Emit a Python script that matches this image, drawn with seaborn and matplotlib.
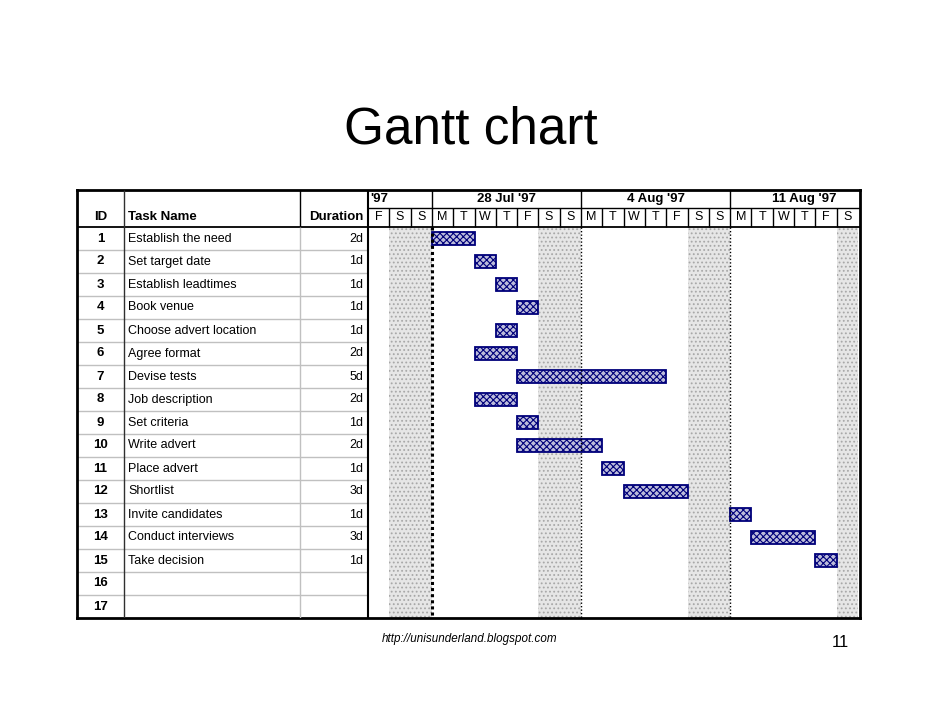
import matplotlib
matplotlib.use("Agg")
import matplotlib.pyplot as plt
from matplotlib.patches import Rectangle
import pandas as pd
import seaborn as sns

# --- data ---
ids = [str(i) for i in range(1, 18)]
task_names = ["Establish the need", "Set target date", "Establish leadtimes", "Book venue",
              "Choose advert location", "Agree format", "Devise tests", "Job description",
              "Set criteria", "Write advert", "Place advert", "Shortlist",
              "Invite candidates", "Conduct interviews", "Take decision"]
durations = ["2d", "1d", "1d", "1d", "1d", "2d", "5d", "2d", "1d", "2d", "1d", "3d",
             "1d", "3d", "1d"]
# calendar day offset from Fri 25 Jul '97 and calendar days spanned (weekends included)
start_day = [3, 5, 6, 7, 6, 5, 7, 5, 7, 7, 11, 12, 17, 18, 21]
span_days = [2, 1, 1, 1, 1, 2, 7, 2, 1, 4, 1, 3, 1, 3, 1]
week_labels = ["'97", "28 Jul '97", "4 Aug '97", "11 Aug '97"]
week_starts = [-4, 3, 10, 17]
day_letters = ["F", "S", "S", "M", "T", "W", "T", "F", "S", "S", "M", "T", "W", "T",
               "F", "S", "S", "M", "T", "W", "T", "F", "S"]

# --- layout in pixels of the 942x728 page ---
FIG_W, FIG_H = 942, 728
TBL_L, TBL_R, TBL_T, TBL_B = 77, 860, 190, 618
HDR_MID, HDR_B = 208, 227
COL_TASK, COL_DUR, CHART_X0 = 124, 300, 368
DAY_PX = 21.3
ROW_PX = (TBL_B - HDR_B) / 17


def px2x(p):
    return (p - CHART_X0) / DAY_PX


def py2y(p):
    return (p - HDR_B) / ROW_PX - 0.5


sns.set_style("white")
plt.rcParams["font.family"] = ["Liberation Sans", "DejaVu Sans"]
plt.rcParams["text.color"] = "black"
plt.rcParams["hatch.linewidth"] = 0.8

fig = plt.figure(figsize=(FIG_W / 100, FIG_H / 100), dpi=100)
ax = fig.add_axes([TBL_L / FIG_W, 1 - TBL_B / FIG_H,
                   (TBL_R - TBL_L) / FIG_W, (TBL_B - TBL_T) / FIG_H])

tasks = pd.DataFrame({"id": ids[:len(task_names)], "start": start_day, "span": span_days})

# weekend shading in the chart body
n_days = len(day_letters)
for d, letter in enumerate(day_letters):
    if letter == "S":
        ax.add_patch(Rectangle((d, -0.5), 1, 17, facecolor="#e6e6e6", edgecolor="#a8a8a8",
                               hatch="....", linewidth=0, zorder=0.5))

# task bars
sns.barplot(data=tasks, x="span", y="id", order=ids, orient="h", errorbar=None,
            left=tasks["start"].to_numpy(), width=0.58, color="#b8b8e0",
            edgecolor="#00007a", linewidth=1.3, hatch="xxxxx", ax=ax, zorder=2)

x_left, x_right = px2x(TBL_L), px2x(TBL_R)
y_top, y_mid = py2y(TBL_T), py2y(HDR_MID)
ax.set_xlim(x_left, x_right)
ax.set_ylim(16.5, y_top)
ax.set_xticks([])
ax.set_yticks([])
ax.set_xlabel("")
ax.set_ylabel("")
for sp in ax.spines.values():
    sp.set_visible(True)
    sp.set_color("black")
    sp.set_linewidth(2)

# week start dotted lines
ax.vlines(3, -0.5, 16.5, colors="black", linestyles=(0, (1, 1)), linewidth=2.2, zorder=3)
ax.vlines([10, 17], -0.5, 16.5, colors="black", linestyles=(0, (1, 1.5)), linewidth=1,
          zorder=3)

# table grid
x_task, x_dur = px2x(COL_TASK), px2x(COL_DUR)
for k in range(16):
    ax.hlines(k + 0.5, x_left, 0, colors="#c0c0c0", linewidth=1, zorder=1)
ax.hlines(-0.5, x_left, x_right, colors="black", linewidth=1.3, zorder=4)
ax.hlines(y_mid, 0, x_right, colors="black", linewidth=1, zorder=4)
ax.vlines(x_task, y_top, 16.5, colors="#303030", linewidth=1, zorder=4)
ax.vlines(x_dur, y_top, -0.5, colors="black", linewidth=1, zorder=4)
ax.vlines(x_dur, -0.5, 16.5, colors="#c0c0c0", linewidth=1, zorder=4)
ax.vlines(0, y_top, 16.5, colors="black", linewidth=1.5, zorder=4)
ax.vlines(range(1, n_days), y_mid, -0.5, colors="black", linewidth=1, zorder=4)
ax.vlines([w for w in week_starts if w > 0], y_top, y_mid, colors="black", linewidth=1,
          zorder=4)

# header texts
y_hdr = (y_mid - 0.5) / 2
y_wk = (y_top + y_mid) / 2
hdr_kw = dict(fontsize=9.5, fontweight="bold", va="center")
ax.text((x_left + x_task) / 2, y_hdr, "ID", ha="center", **hdr_kw)
ax.text(px2x(128), y_hdr, "Task Name", ha="left", **hdr_kw)
ax.text(px2x(363), y_hdr, "Duration", ha="right", **hdr_kw)
for lab, w in zip(week_labels, week_starts):
    if w < 0:
        ax.text(0.12, y_wk, lab, ha="left", **hdr_kw)
    else:
        ax.text(w + 3.5, y_wk, lab, ha="center", **hdr_kw)
for d, letter in enumerate(day_letters):
    ax.text(d + 0.5, y_hdr, letter, ha="center", va="center", fontsize=9)

# table body texts
for i, tid in enumerate(ids):
    ax.text((x_left + x_task) / 2, i, tid, ha="center", va="center", fontsize=9.5,
            fontweight="bold")
for i, (name, dur) in enumerate(zip(task_names, durations)):
    ax.text(px2x(128), i, name, ha="left", va="center", fontsize=9)
    ax.text(px2x(363), i, dur, ha="right", va="center", fontsize=9)

# page texts
fig.text(470.5 / FIG_W, 1 - 143 / FIG_H, "Gantt chart", ha="center", va="baseline",
         fontsize=37)
fig.text(382 / FIG_W, 1 - 642 / FIG_H, "http://unisunderland.blogspot.com", ha="left",
         va="baseline", fontsize=8.4, style="italic")
fig.text(840 / FIG_W, 1 - 647 / FIG_H, "11", ha="center", va="baseline", fontsize=12)

fig.savefig("out.png", dpi=100)
